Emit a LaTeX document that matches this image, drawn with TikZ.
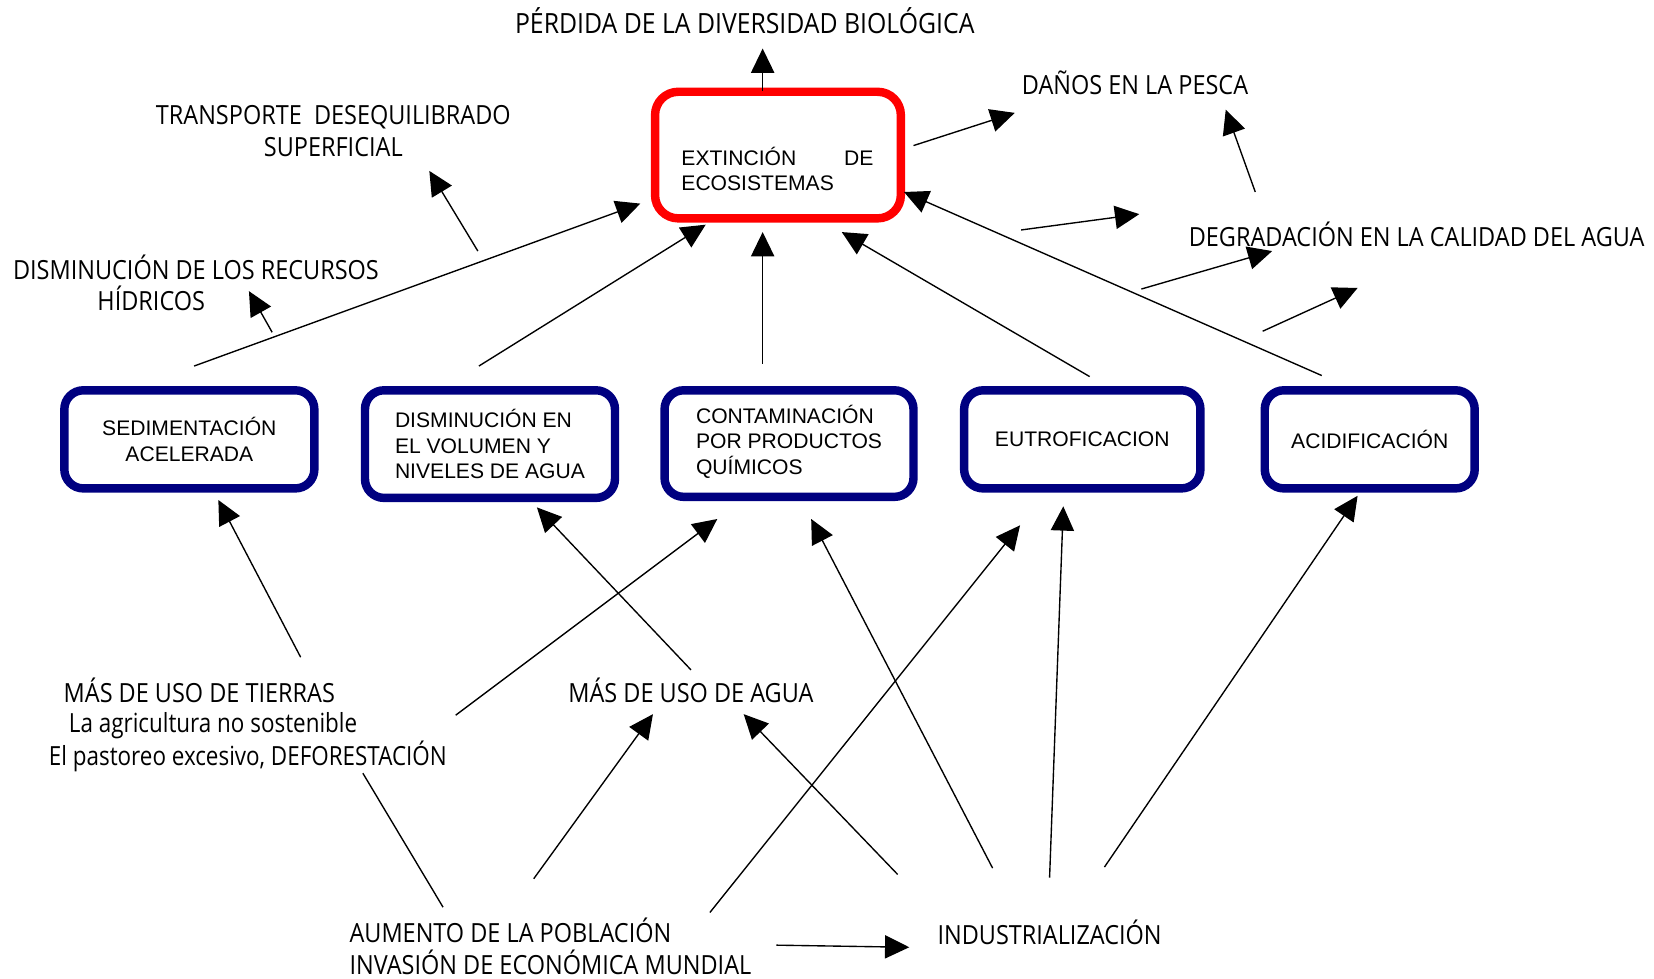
\documentclass[tikz,border=0pt]{standalone}
\usepackage{fontspec}
\setmainfont{Liberation Sans}
\newfontfamily\freefont[FakeStretch=0.89]{Open Sans}
\newfontfamily\freefontlc[FakeStretch=0.85]{Open Sans}
\newfontfamily\boxfont{Liberation Sans}
\usetikzlibrary{arrows.meta}
\definecolor{boxblue}{RGB}{0,0,128}
\definecolor{boxred}{RGB}{255,0,0}
\begin{document}
\begin{tikzpicture}[x=0.5pt,y=-0.5pt,
  arr/.style={-{Triangle[length=11.5pt,width=11pt]}, line width=0.65pt},
  ln/.style={line width=0.65pt},
  free/.style={font=\freefont\fontsize{12.5}{15}\selectfont, inner sep=0pt},
  bluebox/.style={draw=boxblue, line width=4pt, rounded corners=9pt, inner sep=0pt,
     font=\boxfont\fontsize{10}{12}\selectfont},
  redbox/.style={draw=boxred, line width=4pt, rounded corners=11pt, inner sep=0pt,
     minimum width=116.5pt, minimum height=60pt},
  boxtext/.style={font=\boxfont\fontsize{10}{12}\selectfont, inner sep=0pt}
]
\useasboundingbox (0,0) rectangle (1568,928);

% ---------- text nodes ----------
\node[free, anchor=mid, font=\freefont\fontsize{13.2}{15}\selectfont] (perdida) at (706,26) {PÉRDIDA DE LA DIVERSIDAD BIOLÓGICA};
\node[free, anchor=mid] (danos) at (1076,84) {DAÑOS EN LA PESCA};
\node[free, align=center] (transp) at (316,124) {TRANSPORTE\ \ DESEQUILIBRADO\\SUPERFICIAL};
\node[free, align=left, anchor=west] (recursos) at (12,268) {DISMINUCIÓN DE LOS RECURSOS\\\hspace*{40pt}HÍDRICOS};
\node[free, anchor=mid] (degrad) at (1343,228) {DEGRADACIÓN EN LA CALIDAD DEL AGUA};
\node[free, align=left, anchor=west, font=\freefontlc\fontsize{12.5}{14.5}\selectfont] (tierras) at (46,687)
  {\hspace*{7pt}{\freefont MÁS DE USO DE TIERRAS}\\\hspace*{9.5pt}La agricultura no sostenible\\El pastoreo excesivo, DEFORESTACIÓN};
\node[free, anchor=mid] (agua) at (655,661) {MÁS DE USO DE AGUA};
\node[free, align=left, anchor=west] (aumento) at (331,897) {AUMENTO DE LA POBLACIÓN\\INVASIÓN DE ECONÓMICA MUNDIAL};
\node[free, anchor=mid] (indus) at (995,890) {INDUSTRIALIZACIÓN};

% ---------- boxes ----------
\node[redbox] (ext) at (737.5,147) {};
\node[boxtext, align=left] (extt) at (737,160) {\makebox[91pt][s]{EXTINCIÓN\hfill DE}\\ECOSISTEMAS};

\node[bluebox, minimum width=118.5pt, minimum height=46.5pt, align=center] (sed) at (179.5,416.5) {SEDIMENTACIÓN\\ACELERADA};
\node[bluebox, minimum width=118.5pt, minimum height=51pt, align=left] (dis) at (464.5,421) {DISMINUCIÓN EN\\EL VOLUMEN Y\\NIVELES DE AGUA};
\node[bluebox, minimum width=118pt, minimum height=50.5pt, align=left] (cont) at (748,420.5) {CONTAMINACIÓN\\POR PRODUCTOS\\QUÍMICOS\strut};
\node[bluebox, minimum width=112pt, minimum height=46.5pt] (eutro) at (1026,416.5) {EUTROFICACION};
\node[bluebox, minimum width=99.5pt, minimum height=46.5pt] (acid) at (1298.5,416.5) {ACIDIFICACIÓN};

% ---------- connector end points ----------
\coordinate (extTop) at (723,86);   \coordinate (perdidaIn) at (723,46);
\coordinate (extRight) at (866,138); \coordinate (danosIn) at (962,107);
\coordinate (transpOut) at (453,238); \coordinate (transpIn) at (407,162);
\coordinate (recOut) at (258,315); \coordinate (recIn) at (236,276);
\coordinate (degUp) at (1190,182); \coordinate (danosIn2) at (1162,104);
\coordinate (degA) at (968,218); \coordinate (degAe) at (1080,203);
\coordinate (degB) at (1082,274); \coordinate (degBe) at (1206,238);
\coordinate (degC) at (1197,314); \coordinate (degCe) at (1287,273);
\coordinate (sedOut) at (184,347); \coordinate (extInA) at (607,193);
\coordinate (disOut) at (454,347); \coordinate (extInB) at (669,213);
\coordinate (contOut) at (723,345); \coordinate (extInC) at (723,220);
\coordinate (eutroOut) at (1033,357); \coordinate (extInD) at (798,220);
\coordinate (acidOut) at (1253,356); \coordinate (extInE) at (857,182);
\coordinate (tierrasA) at (285,623); \coordinate (sedIn) at (207,474);
\coordinate (tierrasB) at (432,678); \coordinate (contInA) at (680,492);
\coordinate (aguaA) at (655,635); \coordinate (disIn) at (509,481);
\coordinate (aumA) at (420,860); \coordinate (tierrasIn) at (344,733);
\coordinate (aumB) at (506,833); \coordinate (aguaInA) at (619,677);
\coordinate (aumC) at (673,865); \coordinate (eutroInA) at (967,498);
\coordinate (indA) at (851,829); \coordinate (aguaInB) at (705,677);
\coordinate (indB) at (941,823); \coordinate (contInB) at (769,492);
\coordinate (indC) at (995,832); \coordinate (eutroInB) at (1008,480);
\coordinate (indD) at (1047,822); \coordinate (acidIn) at (1287,470);
\coordinate (aumR) at (736,896); \coordinate (indIn) at (862,898);

% ---------- connectors ----------
\draw[arr] (extTop) -- (perdidaIn);
\draw[arr] (extRight) -- (danosIn);
\draw[arr] (transpOut) -- (transpIn);
\draw[arr] (recOut) -- (recIn);
\draw[arr] (degUp) -- (danosIn2);
\draw[arr] (degA) -- (degAe);
\draw[arr] (degB) -- (degBe);
\draw[arr] (degC) -- (degCe);
\draw[arr] (sedOut) -- (extInA);
\draw[arr] (disOut) -- (extInB);
\draw[arr] (contOut) -- (extInC);
\draw[arr] (eutroOut) -- (extInD);
\draw[arr] (acidOut) -- (extInE);
\draw[arr] (tierrasA) -- (sedIn);
\draw[arr] (tierrasB) -- (contInA);
\draw[arr] (aguaA) -- (disIn);
\draw[ln] (aumA) -- (tierrasIn);
\draw[arr] (aumB) -- (aguaInA);
\draw[arr] (aumC) -- (eutroInA);
\draw[arr] (indA) -- (aguaInB);
\draw[arr] (indB) -- (contInB);
\draw[arr] (indC) -- (eutroInB);
\draw[arr] (indD) -- (acidIn);
\draw[arr] (aumR) -- (indIn);
\end{tikzpicture}
\end{document}
